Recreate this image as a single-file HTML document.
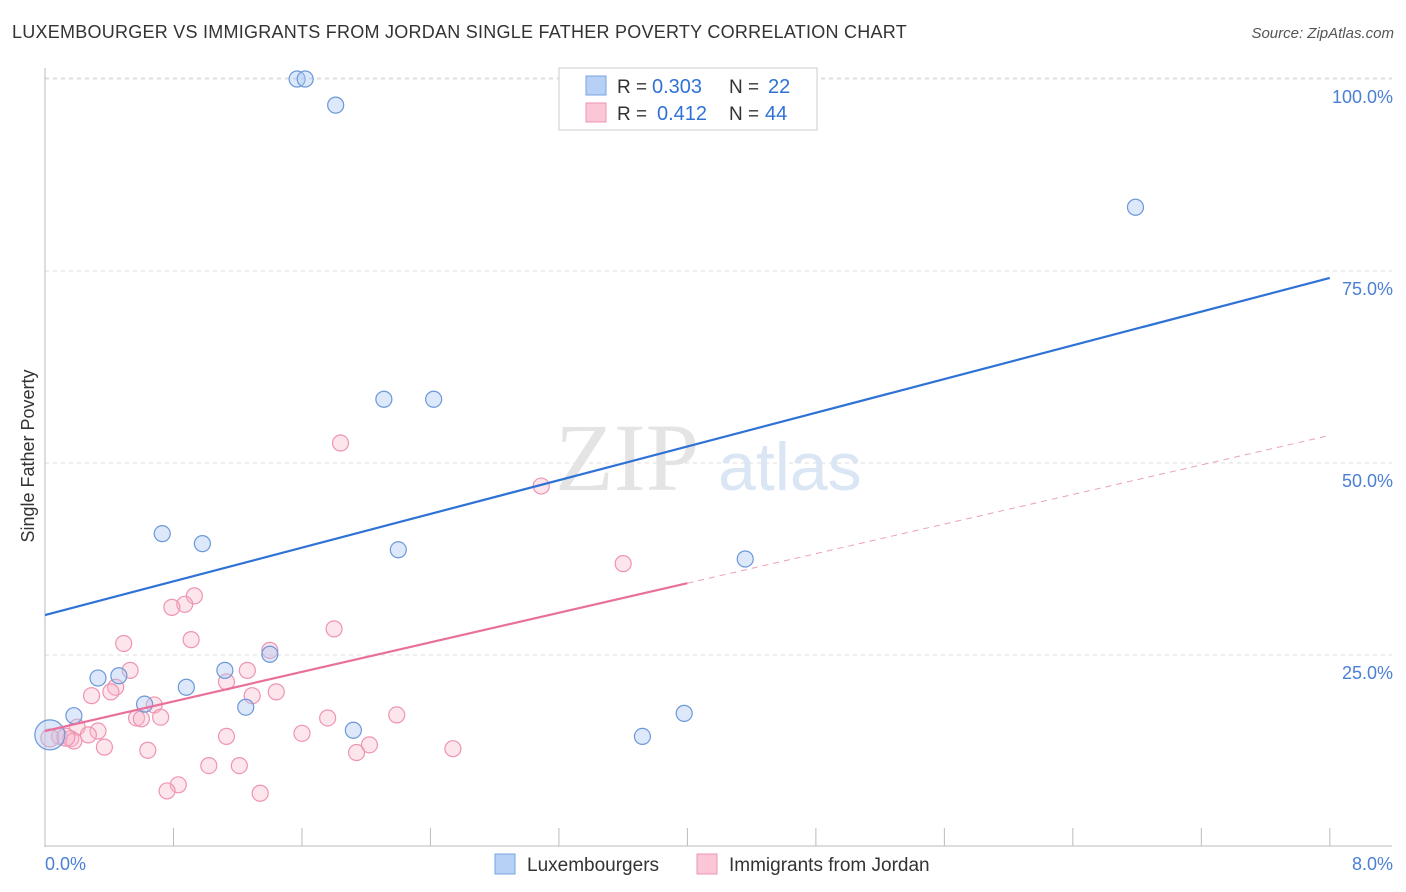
<!DOCTYPE html>
<html><head><meta charset="utf-8">
<style>
body{margin:0;background:#fff;font-family:"Liberation Sans",sans-serif;}
#wrap{position:relative;width:1406px;height:892px;overflow:hidden;}
.t{position:absolute;white-space:nowrap;}
</style></head>
<body>
<div id="wrap">
<div class="t" style="left:12px;top:22px;font-size:18px;letter-spacing:0.25px;color:#333;">LUXEMBOURGER VS IMMIGRANTS FROM JORDAN SINGLE FATHER POVERTY CORRELATION CHART</div>
<div class="t" style="right:12px;top:25px;font-size:15px;color:#555;font-style:italic;">Source: ZipAtlas.com</div>
<svg id="svg" width="1406" height="892" style="position:absolute;left:0;top:0"></svg>
</div>
<script>
const xTicks=[0,0.8,1.6,2.4,3.2,4.0,4.8,5.6,6.4,7.2,8.0];
const yTicks=[25,50,75,100];
const yTickLabels=["25.0%","50.0%","75.0%","100.0%"];
const luxX=[1.57,1.62,1.81,6.79,2.11,2.42,0.73,0.98,2.20,4.36,0.33,0.46,1.40,1.12,0.88,0.62,1.25,0.18,1.92,3.72,3.98,0.03];
const luxY=[100,100,96.6,83.3,58.3,58.3,40.8,39.5,38.7,37.5,22.0,22.3,25.1,23.0,20.8,18.6,18.2,17.1,15.2,14.4,17.4,14.6];
const jorX=[1.84,3.09,3.60,0.93,0.87,0.79,0.91,0.49,1.80,1.40,0.53,1.26,0.44,1.13,1.44,0.29,0.41,0.68,1.29,0.57,0.60,0.72,2.19,1.76,0.20,0.33,0.27,1.60,1.13,0.09,0.16,0.18,0.37,0.64,2.02,2.54,1.94,1.02,1.21,0.83,0.76,1.34,0.03,0.13];
const jorY=[52.6,47.0,36.9,32.7,31.6,31.2,27.0,26.5,28.4,25.6,23.0,23.0,20.8,21.5,20.2,19.7,20.2,18.5,19.7,16.8,16.7,16.9,17.2,16.8,15.6,15.1,14.6,14.8,14.4,14.4,14.1,13.8,13.0,12.6,13.3,12.8,12.3,10.6,10.6,8.1,7.3,7.0,14.2,14.3];
const luxLine=[30.2,74.1];
const jorLine=[15.1,53.6];
const jorSolidEnd=4.0;
const svg=document.getElementById('svg');
const NS='http://www.w3.org/2000/svg';
const X=v=>45+v*160.6, Y=v=>847-v*7.68;
function mk(tag,a,name){const e=document.createElementNS(NS,tag);for(const k in a)e.setAttribute(k,a[k]);


svg.appendChild(e);return e;}
yTicks.forEach((t,i)=>{mk('line',{x1:45,x2:1392,y1:Y(t),y2:Y(t),stroke:'#ddd','stroke-dasharray':'4,4'},'gridline');
const tx=mk('text',{x:1393,y:Y(t)+24,'text-anchor':'end','font-size':18,fill:'#4a7fd4'},'y-tick-label');tx.textContent=yTickLabels[i];});
mk('line',{x1:45,x2:1392,y1:Y(100)-1,y2:Y(100)-1,stroke:'#ddd','stroke-dasharray':'4,4'},'gridline-top');
mk('line',{x1:45,x2:45,y1:68,y2:847,stroke:'#bbb'},'y-axis');
mk('line',{x1:45,x2:1392,y1:846,y2:846,stroke:'#bbb'},'x-axis');
xTicks.forEach(t=>{if(t>0)mk('line',{x1:X(t),x2:X(t),y1:828,y2:846,stroke:'#bbb'},'x-tick');});
let tl=mk('text',{x:45,y:870,'font-size':18,fill:'#4a7fd4'},'x-tick-label');tl.textContent='0.0%';
tl=mk('text',{x:1393,y:870,'text-anchor':'end','font-size':18,fill:'#4a7fd4'},'x-tick-label');tl.textContent='8.0%';
let yt=mk('text',{x:34,y:456,'font-size':18,fill:'#333','text-anchor':'middle',transform:'rotate(-90 34 456)'},'y-axis-title');yt.textContent='Single Father Poverty';
let w=mk('text',{x:555,y:490,'font-size':96,fill:'#e4e4e4','font-family':'Liberation Serif'},'watermark-zip');w.textContent='ZIP';
w=mk('text',{x:718,y:490,'font-size':68,fill:'#dbe6f5'},'watermark-atlas');w.textContent='atlas';
jorX.forEach((x,i)=>mk('circle',{cx:X(x),cy:Y(jorY[i]),r:i>=42?9:8,fill:'rgba(248,180,200,0.35)',stroke:'#ee94b3','stroke-width':1.2},'jordan-point'));
luxX.forEach((x,i)=>mk('circle',{cx:X(x),cy:Y(luxY[i]),r:i==21?15:8,fill:'rgba(170,200,245,0.4)',stroke:'#6b98d8','stroke-width':1.2},'luxembourger-point'));
mk('line',{x1:X(0),y1:Y(luxLine[0]),x2:X(8),y2:Y(luxLine[1]),stroke:'#2f72d6','stroke-width':2.2},'luxembourger-trendline');
const jy=v=>jorLine[0]+(jorLine[1]-jorLine[0])*v/8;
mk('line',{x1:X(0),y1:Y(jy(0)),x2:X(jorSolidEnd),y2:Y(jy(jorSolidEnd)),stroke:'#e8709a','stroke-width':2.2},'jordan-trendline');
mk('line',{x1:X(jorSolidEnd),y1:Y(jy(jorSolidEnd)),x2:X(8),y2:Y(jy(8)),stroke:'#eaa0bb','stroke-width':1,'stroke-dasharray':'6,5'},'jordan-trendline-extension');
mk('rect',{x:559,y:68,width:258,height:62,fill:'#fff',stroke:'#ccc'},'stats-legend');
mk('rect',{x:586,y:76,width:20,height:19,fill:'#b7d0f5',stroke:'#7aa3e0'},'lux-swatch');
mk('rect',{x:586,y:103,width:20,height:19,fill:'#fbc6d6',stroke:'#ee94b3'},'jor-swatch');
function txt(x,y,s,c,n,fs){const e=mk('text',{x,y,'font-size':fs||19,fill:c},n);e.textContent=s;}
txt(617,93,'R = ','#333','r-label');txt(652,93,'0.303','#2f72d6','r-value-lux',20);
txt(729,93,'N = ','#333','n-label');txt(768,93,'22','#2f72d6','n-value-lux',20);
txt(617,120,'R = ','#333','r-label');txt(657,120,'0.412','#2f72d6','r-value-jor',20);
txt(729,120,'N = ','#333','n-label');txt(765,120,'44','#2f72d6','n-value-jor',20);
mk('rect',{x:495,y:854,width:20,height:20,fill:'#b7d0f5',stroke:'#7aa3e0'},'legend-swatch-lux');
txt(527,871,'Luxembourgers','#333','legend-entry-lux');
mk('rect',{x:697,y:854,width:20,height:20,fill:'#fbc6d6',stroke:'#ee94b3'},'legend-swatch-jor');
txt(729,871,'Immigrants from Jordan','#333','legend-entry-jor');
</script>
</body></html>
